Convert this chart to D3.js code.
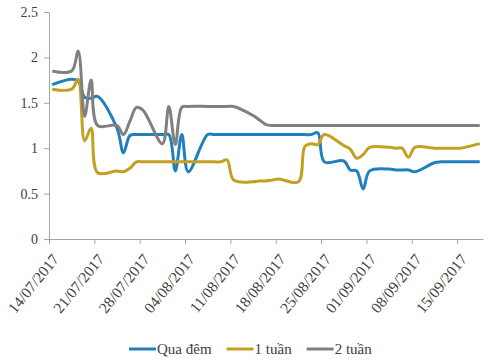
<!DOCTYPE html>
<html lang="vi">
<head>
    <meta charset="UTF-8">
    <title>Lãi suất liên ngân hàng</title>
    <style>
        body { margin: 0; background: #fff; }
        svg text { font-family: "Liberation Serif", "Times New Roman", serif !important; }
        .axis path, .axis line { stroke: #a6a6a6; }
    </style>
</head>
<body>
    <div id="chart"></div>

    <script src="https://d3js.org/d3.v7.min.js"></script>
    <script>
        const w = 500;
        const h = 363;

        // business days, one value per day for each term
        const dates = ['14/07/2017',
            '17/07/2017', '18/07/2017', '19/07/2017', '20/07/2017', '21/07/2017',
            '24/07/2017', '25/07/2017', '26/07/2017', '27/07/2017', '28/07/2017',
            '31/07/2017', '01/08/2017', '02/08/2017', '03/08/2017', '04/08/2017',
            '07/08/2017', '08/08/2017', '09/08/2017', '10/08/2017', '11/08/2017',
            '14/08/2017', '15/08/2017', '16/08/2017', '17/08/2017', '18/08/2017',
            '21/08/2017', '22/08/2017', '23/08/2017', '24/08/2017', '25/08/2017',
            '28/08/2017', '29/08/2017', '30/08/2017', '31/08/2017', '01/09/2017',
            '04/09/2017', '05/09/2017', '06/09/2017', '07/09/2017', '08/09/2017',
            '11/09/2017', '12/09/2017', '13/09/2017', '14/09/2017', '15/09/2017',
            '18/09/2017'];

        const quaDem = [1.70,
            1.76, 1.74, 1.56, 1.55, 1.57,
            1.22, 0.95, 1.14, 1.15, 1.15,
            1.15, 1.15, 0.75, 1.15, 0.74,
            1.15, 1.15, 1.15, 1.15, 1.15,
            1.15, 1.15, 1.15, 1.15, 1.15,
            1.15, 1.15, 1.15, 1.17, 0.85,
            0.86, 0.76, 0.75, 0.55, 0.75,
            0.77, 0.76, 0.76, 0.76, 0.74,
            0.84, 0.85, 0.85, 0.85, 0.85,
            0.85];

        const motTuan = [1.65,
            1.65, 1.76, 1.08, 1.22, 0.73,
            0.75, 0.74, 0.78, 0.85, 0.85,
            0.85, 0.85, 0.85, 0.85, 0.85,
            0.85, 0.85, 0.85, 0.87, 0.65,
            0.63, 0.64, 0.64, 0.65, 0.66,
            0.63, 1.02, 1.05, 1.04, 1.15,
            1.03, 0.99, 0.89, 0.93, 1.01,
            1.01, 1.00, 1.00, 0.90, 1.01,
            1.00, 1.00, 1.00, 1.00, 1.00,
            1.05];

        const haiTuan = [1.85,
            1.85, 2.07, 1.35, 1.75, 1.25,
            1.25, 1.15, 1.30, 1.45, 1.42,
            1.05, 1.46, 1.04, 1.45, 1.46,
            1.46, 1.46, 1.46, 1.46, 1.46,
            1.36, 1.31, 1.26, 1.25, 1.25,
            1.25, 1.25, 1.25, 1.25, 1.25,
            1.25, 1.25, 1.25, 1.25, 1.25,
            1.25, 1.25, 1.25, 1.25, 1.25,
            1.25, 1.25, 1.25, 1.25, 1.25,
            1.25];

        const seriesNames = ['Qua đêm', '1 tuần', '2 tuần'];
        const seriesColors = ['#1f80bb', '#c4a022', '#808080'];
        const yTicks = [0, 0.5, 1, 1.5, 2, 2.5];
        const xTickLabels = ['14/07/2017', '21/07/2017', '28/07/2017', '04/08/2017', '11/08/2017',
                             '18/08/2017', '25/08/2017', '01/09/2017', '08/09/2017', '15/09/2017'];

        const parse = d3.timeParse('%d/%m/%Y');
        const fmt = d3.timeFormat('%d/%m/%Y');
        const days = dates.map(parse);
        const series = [quaDem, motTuan, haiTuan].map((vals, i) => ({
            name: seriesNames[i],
            color: seriesColors[i],
            values: vals.map((v, j) => ({date: days[j], v: v}))
        }));

        const xScale = d3.scaleTime()
            .domain([parse('14/07/2017'), parse('19/09/2017')])
            .range([49, 483]);
        const yScale = d3.scaleLinear()
            .domain([0, 2.5])
            .range([239, 12]);

        const svg = d3.select('#chart')
            .append('svg')
            .attr('width', w)
            .attr('height', h);

        // excel-style date axis: a point sits in the middle of its day
        const line = d3.line()
            .x(d => xScale(d3.timeHour.offset(d.date, 12)))
            .y(d => yScale(d.v))
            .curve(d3.curveCatmullRom.alpha(0.5));

        svg.selectAll('path.series')
            .data(series)
            .enter()
            .append('path')
            .attr('class', 'series')
            .attr('fill', 'none')
            .attr('stroke', d => d.color)
            .attr('stroke-width', 3)
            .attr('stroke-linejoin', 'round')
            .attr('d', d => line(d.values));

        const yAxis = d3.axisLeft(yScale)
            .tickValues(yTicks)
            .tickFormat(d => String(d))
            .tickSize(5)
            .tickPadding(6)
            .tickSizeOuter(0);
        svg.append('g')
            .attr('class', 'axis')
            .attr('transform', 'translate(49,0)')
            .call(yAxis)
            .call(g => g.selectAll('text')
                .attr('fill', '#404040')
                .style('font-size', '14px'));

        const xAxis = d3.axisBottom(xScale)
            .tickValues(xTickLabels.map(parse))
            .tickFormat(fmt)
            .tickSize(5)
            .tickSizeOuter(0);
        svg.append('g')
            .attr('class', 'axis')
            .attr('transform', 'translate(0,239)')
            .call(xAxis)
            .call(g => g.selectAll('text')
                .attr('fill', '#404040')
                .attr('y', null)
                .attr('dy', '0.35em')
                .attr('text-anchor', 'end')
                .attr('transform', 'translate(6,17) rotate(-51)')
                .style('font-size', '15.5px'));

        // legend
        const legend = svg.append('g')
            .attr('transform', 'translate(129,349)');
        let lx = 0;
        series.forEach(s => {
            legend.append('line')
                .attr('x1', lx).attr('x2', lx + 27)
                .attr('y1', 0).attr('y2', 0)
                .attr('stroke', s.color)
                .attr('stroke-width', 3);
            const t = legend.append('text')
                .attr('x', lx + 28)
                .attr('dy', '0.35em')
                .attr('fill', '#404040')
                .style('font-size', '15px')
                .text(s.name);
            lx += 28 + t.node().getComputedTextLength() + 15;
        });
    </script>
</body>
</html>
